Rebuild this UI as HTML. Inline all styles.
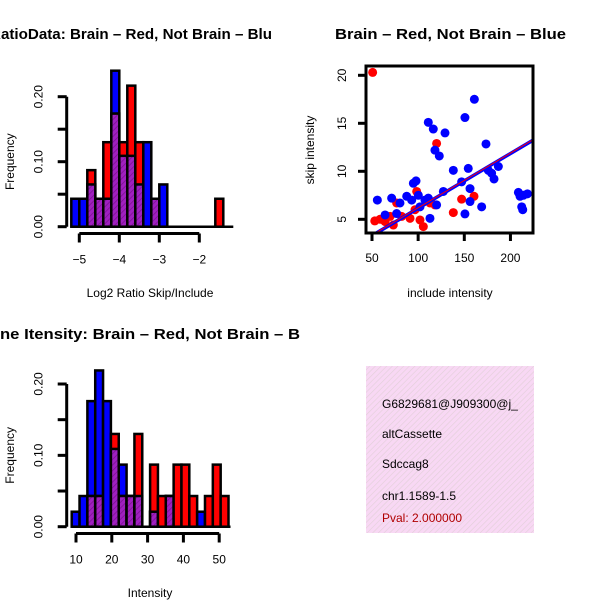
<!DOCTYPE html>
<html><head><meta charset="utf-8">
<style>
html,body{margin:0;padding:0;background:#fff;}
svg{display:block;font-family:"Liberation Sans",Arial,sans-serif;}
</style></head>
<body>
<svg id="c" width="600" height="600" viewBox="0 0 600 600" xmlns="http://www.w3.org/2000/svg">
<defs>
<pattern id="hatch" width="4" height="4" patternUnits="userSpaceOnUse" patternTransform="rotate(45)">
<rect width="4" height="4" fill="#a020c0"/>
<line x1="0" y1="0" x2="0" y2="4" stroke="#7a1090" stroke-width="1.5"/>
</pattern>
<pattern id="pink" width="4" height="4" patternUnits="userSpaceOnUse" patternTransform="rotate(45)">
<rect width="4" height="4" fill="#f8d8f4"/>
<line x1="0" y1="0" x2="0" y2="4" stroke="#e2cfd8" stroke-width="1.2"/>
</pattern>
</defs>
<text x="-10" y="39" font-size="15" font-weight="bold" textLength="282" lengthAdjust="spacingAndGlyphs">RatioData: Brain – Red, Not Brain – Blu</text>
<text x="335" y="39" font-size="15" font-weight="bold" textLength="231" lengthAdjust="spacingAndGlyphs">Brain – Red, Not Brain – Blue</text>
<text x="0" y="339" font-size="15" font-weight="bold" textLength="300" lengthAdjust="spacingAndGlyphs">ne Itensity: Brain – Red, Not Brain – B</text>
<g id="g1"></g><g id="g2"></g><g id="g3"></g>
<g>
<rect x="366" y="366" width="168" height="167" fill="url(#pink)"/>
<text x="382" y="408" font-size="12">G6829681@J909300@j_</text>
<text x="382" y="438" font-size="12">altCassette</text>
<text x="382" y="468" font-size="12">Sdccag8</text>
<text x="382" y="500" font-size="12">chr1.1589-1.5</text>
<text x="382" y="522" font-size="12" fill="#b00000">Pval: 2.000000</text>
</g>
</svg>
<script>
// ---- Ratio histogram data ----
const ratioStart = -5.2;
const ratioBinWidth = 0.2;
const ratioBlue = [0.043,0.043,0.065,0.043,0.043,0.24,0.109,0.109,0.065,0.13,0.043,0.065,0,0,0,0,0,0,0,0];
const ratioRed  = [0,0,0.087,0.043,0.13,0.174,0.13,0.217,0.13,0,0.043,0,0,0,0,0,0,0,0.043,0];
const ratioXTicks = [-5,-4,-3,-2];
const ratioXLabels = ["−5","−4","−3","−2"];
const ratioYTicks = [0,0.05,0.1,0.15,0.2];
const ratioYLabels = ["0.00","","0.10","","0.20"];
// ---- Intensity histogram data ----
const intStart = 8.8;
const intBinWidth = 2.19;
const intBlue = [0.021,0.043,0.176,0.219,0.176,0.109,0.087,0.043,0.043,0,0.021,0,0.043,0,0,0,0.021,0,0,0];
const intRed  = [0,0,0.043,0.043,0,0.13,0.043,0.043,0.13,0,0.087,0.043,0.043,0.087,0.087,0.043,0,0.043,0.087,0.043];
const intXTicks = [10,20,30,40,50];
const intXLabels = ["10","20","30","40","50"];
const intYTicks = [0,0.05,0.1,0.15,0.2];
const intYLabels = ["0.00","","0.10","","0.20"];
// ---- Scatter data ----
const blueX = [55.8,64.2,71.3,76.7,80.3,87.6,93,94.8,97.7,100.2,102,107.4,111,112.8,111,116.4,120,118.2,122.9,127.3,129.1,138.1,147.1,150.7,150.7,154.3,156.2,156.2,160.9,168.8,173.5,176,179.6,182.2,186.9,208.6,210.4,212.2,213.3,214,218.4];
const blueY = [7.0,5.45,7.2,5.6,6.7,7.4,7.0,8.75,9.0,7.5,6.3,7.0,7.2,5.1,15.1,14.4,6.5,12.2,11.6,7.9,14.0,10.1,8.9,15.6,5.56,10.3,8.2,6.85,17.5,6.3,12.85,10.1,9.8,9.2,10.5,7.8,7.4,6.3,6.0,7.5,7.65];
const redX = [50.7,53,58.7,64.2,69.6,73.1,76.7,82.1,91.2,98.4,102,105.6,96.6,120,118.2,138.1,147.1,160.5,112.8];
const redY = [20.3,4.83,5.0,4.76,5.3,4.4,6.7,5.3,5.1,7.9,4.93,4.24,6.0,12.9,6.5,5.7,7.1,7.4,6.7];
const fitBlue = [0.45,0.057];
const fitRed = [0.5,0.057];
const scXTicks = [50,100,150,200];
const scYTicks = [5,10,15,20];

const NS="http://www.w3.org/2000/svg";
function mk(parent,tag,attrs){const e=document.createElementNS(NS,tag);for(const k in attrs)e.setAttribute(k,attrs[k]);parent.appendChild(e);return e;}

function hist(g,opt){
  const sx=v=>opt.x0px+(v-opt.x0)*opt.kx;
  const sy=v=>opt.y0px-v*opt.ky;
  const n=opt.blue.length;
  for(let i=0;i<n;i++){
    const a=sx(opt.start+i*opt.bw), b=sx(opt.start+(i+1)*opt.bw);
    const bv=opt.blue[i], rv=opt.red[i];
    if(bv>0){const r=mk(g,'rect',{x:a,y:sy(bv),width:b-a,height:sy(0)-sy(bv),fill:'#0000ff',stroke:'#000','stroke-width':2.5});
      
      }
    if(rv>0){const r=mk(g,'rect',{x:a,y:sy(rv),width:b-a,height:sy(0)-sy(rv),fill:'#ff0000',stroke:'#000','stroke-width':2.5});
      
      }
    const m=Math.min(bv,rv);
    if(m>0){const r=mk(g,'rect',{x:a,y:sy(m),width:b-a,height:sy(0)-sy(m),fill:'url(#hatch)',stroke:'#000','stroke-width':2.5});
      
      }
  }
  mk(g,'line',{x1:sx(opt.start),x2:sx(opt.start+n*opt.bw)+2,y1:sy(0),y2:sy(0),stroke:'#000','stroke-width':2.5});
  const xa=mk(g,'g',{});
  
  
  const ay=opt.xAxisY;
  mk(xa,'line',{x1:sx(opt.xt[0]),x2:sx(opt.xt[opt.xt.length-1]),y1:ay,y2:ay,stroke:'#000','stroke-width':3});
  opt.xt.forEach((t,i)=>{mk(xa,'line',{x1:sx(t),x2:sx(t),y1:ay,y2:ay+9,stroke:'#000','stroke-width':3});
    const tx=mk(xa,'text',{x:sx(t),y:ay+30,'text-anchor':'middle','font-size':12});tx.textContent=opt.xl[i];});
  const ya=mk(g,'g',{});
  
  
  const ax=opt.yAxisX;
  mk(ya,'line',{x1:ax,x2:ax,y1:sy(opt.yt[0]),y2:sy(opt.yt[opt.yt.length-1]),stroke:'#000','stroke-width':3});
  opt.yt.forEach((t,i)=>{mk(ya,'line',{x1:ax,x2:ax-9,y1:sy(t),y2:sy(t),stroke:'#000','stroke-width':3});
    if(opt.yl[i]){const tx=mk(ya,'text',{x:ax-24,y:sy(t),'text-anchor':'middle','font-size':12,transform:`rotate(-90 ${ax-24} ${sy(t)})`});tx.textContent=opt.yl[i];}});
  const yt=mk(g,'text',{x:14,y:(sy(0)+sy(opt.yt[opt.yt.length-1]))/2,'text-anchor':'middle','font-size':12,transform:`rotate(-90 14 ${(sy(0)+sy(opt.yt[opt.yt.length-1]))/2})`});
  yt.textContent='Frequency';
  
  
  const xt=mk(g,'text',{x:opt.xTitleX,y:opt.xTitleY,'text-anchor':'middle','font-size':12});
  xt.textContent=opt.xTitle;
  
  
}

const g1=document.getElementById('g1');


hist(g1,{x0:-5,x0px:79.3,kx:40,y0px:226.7,ky:650,start:ratioStart,bw:ratioBinWidth,blue:ratioBlue,red:ratioRed,
  xt:ratioXTicks,xl:ratioXLabels,yt:ratioYTicks,yl:ratioYLabels,xAxisY:233.5,yAxisX:66.7,xTitle:'Log2 Ratio Skip/Include',xTitleX:150,xTitleY:297});

const g3=document.getElementById('g3');


hist(g3,{x0:10,x0px:76,kx:3.58,y0px:526.7,ky:713.5,start:intStart,bw:intBinWidth,blue:intBlue,red:intRed,
  xt:intXTicks,xl:intXLabels,yt:intYTicks,yl:intYLabels,xAxisY:533.5,yAxisX:66.7,xTitle:'Intensity',xTitleX:150,xTitleY:597});

const g2=document.getElementById('g2');


const sx=v=>372+(v-50)*0.923;
const sy=v=>219.3-(v-5)*9.6;
const clip=mk(g2,'clipPath',{id:'scClip'});mk(clip,'rect',{x:366,y:66,width:167,height:167});
const pts=mk(g2,'g',{'clip-path':'url(#scClip)'});
function fitLine(f,col,w){const x1=40,x2=240;const l=mk(pts,'line',{x1:sx(x1),x2:sx(x2),y1:sy(f[0]+f[1]*x1),y2:sy(f[0]+f[1]*x2),stroke:col,'stroke-width':w});return l;}
redX.forEach((x,i)=>{const c=mk(pts,'circle',{cx:sx(x),cy:sy(redY[i]),r:4.5,fill:'#ff0000'});
  
  });
blueX.forEach((x,i)=>{const c=mk(pts,'circle',{cx:sx(x),cy:sy(blueY[i]),r:4.5,fill:'#0000ff'});
  
  });
const lb=fitLine(fitBlue,'#0000ff',3.5);


const lr=fitLine(fitRed,'#ff0000',1);


mk(g2,'rect',{x:366,y:66,width:167,height:167,fill:'none',stroke:'#000','stroke-width':3});
scXTicks.forEach(t=>{mk(g2,'line',{x1:sx(t),x2:sx(t),y1:233,y2:241,stroke:'#000','stroke-width':3});
  const tx=mk(g2,'text',{x:sx(t),y:262,'text-anchor':'middle','font-size':12});tx.textContent=t;});
scYTicks.forEach(t=>{mk(g2,'line',{x1:366,x2:358,y1:sy(t),y2:sy(t),stroke:'#000','stroke-width':3});
  const tx=mk(g2,'text',{x:346,y:sy(t),'text-anchor':'middle','font-size':12,transform:`rotate(-90 346 ${sy(t)})`});tx.textContent=t;});
const sxt=mk(g2,'text',{x:450,y:297,'text-anchor':'middle','font-size':12});sxt.textContent='include intensity';


const syt=mk(g2,'text',{x:314,y:150,'text-anchor':'middle','font-size':12,transform:'rotate(-90 314 150)'});syt.textContent='skip intensity';


</script>
</body></html>
